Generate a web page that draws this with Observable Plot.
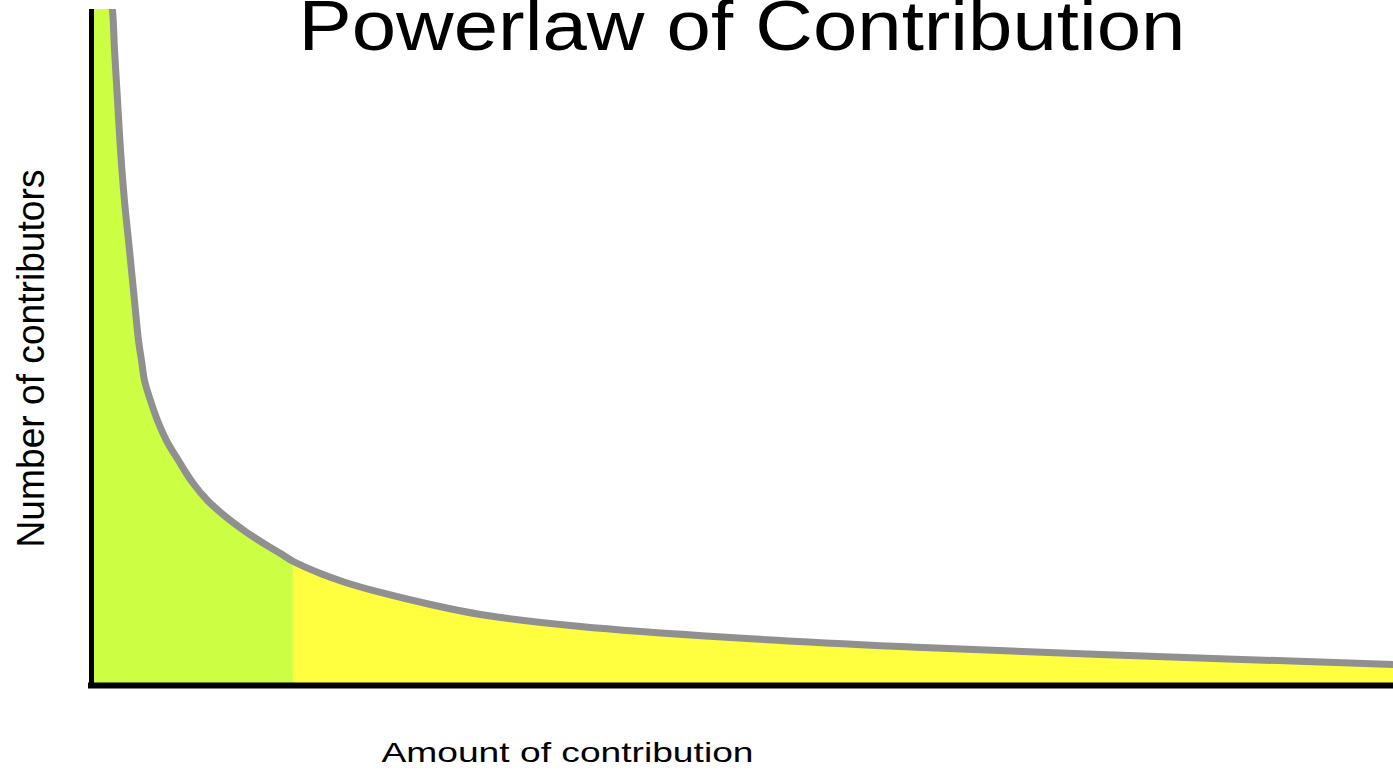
<!DOCTYPE html>
<html><head><meta charset="utf-8">
<script src="https://cdn.jsdelivr.net/npm/d3@7"></script>
<script src="https://cdn.jsdelivr.net/npm/@observablehq/plot@0.6"></script>
<style>html,body{margin:0;padding:0;background:#fff;} svg{display:block}</style>
</head><body><div id="chart"></div>
<script>
const titleText = "Powerlaw of Contribution";
const xLabel = "Amount of contribution";
const yLabel = "Number of contributors";
// amount of contribution (0–100) and number of contributors (0–100)
const amount = [0, 1.46, 1.61, 1.77, 2.00, 2.23, 2.53, 2.92, 3.30, 3.61, 3.84, 4.07, 4.53, 5.07, 5.76, 6.68, 7.76, 8.91, 10.29, 11.83, 13.36, 14.52, 15.51, 17.59, 19.51, 22.20, 26.04, 29.88, 37.56, 49.08, 62.13, 77.50, 100];
const contributors = [101.33, 101.33, 99.85, 93.93, 86.54, 79.14, 71.75, 64.35, 56.95, 51.04, 48.08, 45.12, 42.16, 39.20, 36.24, 33.28, 30.03, 27.37, 25.00, 22.78, 20.86, 19.53, 18.34, 16.57, 15.24, 13.76, 11.98, 10.50, 8.73, 7.10, 5.77, 4.59, 3.11];
const splitAt = 15.51; // boundary between the two shaded groups

const data = amount.map((x, i) => ({x, y: contributors[i]}));
const head = data.filter(d => d.x <= splitAt);
const tail = data.filter(d => d.x >= splitAt);

const svg = Plot.plot({
  width: 1393, height: 771,
  marginLeft: 91, marginRight: 0, marginTop: 9, marginBottom: 86,
  x: {domain: [0, 100], axis: null},
  y: {domain: [0, 100], axis: null},
  style: {fontFamily: "'Liberation Sans', Arial, sans-serif", background: "#fff", overflow: "visible"},
  marks: [
    Plot.areaY(head, {x: "x", y: "y", fill: "#ccff44", curve: "catmull-rom", clip: true}),
    Plot.areaY(tail, {x: "x", y: "y", fill: "#ffff3f", curve: "catmull-rom", clip: true}),
    Plot.line(data, {x: "x", y: "y", stroke: "#909090", strokeWidth: 7, curve: "catmull-rom", clip: true}),
    Plot.ruleX([0], {stroke: "black", strokeWidth: 5}),
    Plot.ruleY([0], {stroke: "black", strokeWidth: 6, strokeLinecap: "square"}),
    Plot.text([titleText], {frameAnchor: "top", lineAnchor: "top", dx: -0.5, dy: 49 - 9 - 0.71 * 70, fontSize: 70, fill: "black"}),
    Plot.text([xLabel], {frameAnchor: "bottom", lineAnchor: "top", dx: -175, dy: 761.7 - 685 - 0.71 * 28, fontSize: 28, fill: "black"}),
    Plot.text([yLabel], {frameAnchor: "left", lineAnchor: "top", textAnchor: "middle", rotate: -90, dx: 43.3 - 0.71 * 38 - 91, dy: 11, fontSize: 38, fill: "black"})
  ]
});

const lengths = {[titleText]: 887, [xLabel]: 372, [yLabel]: 378};
svg.querySelectorAll("text").forEach(t => {
  const L = lengths[t.textContent];
  if (L) { t.setAttribute("textLength", L); t.setAttribute("lengthAdjust", "spacingAndGlyphs"); }
});
document.getElementById("chart").appendChild(svg);
</script>
</body></html>
